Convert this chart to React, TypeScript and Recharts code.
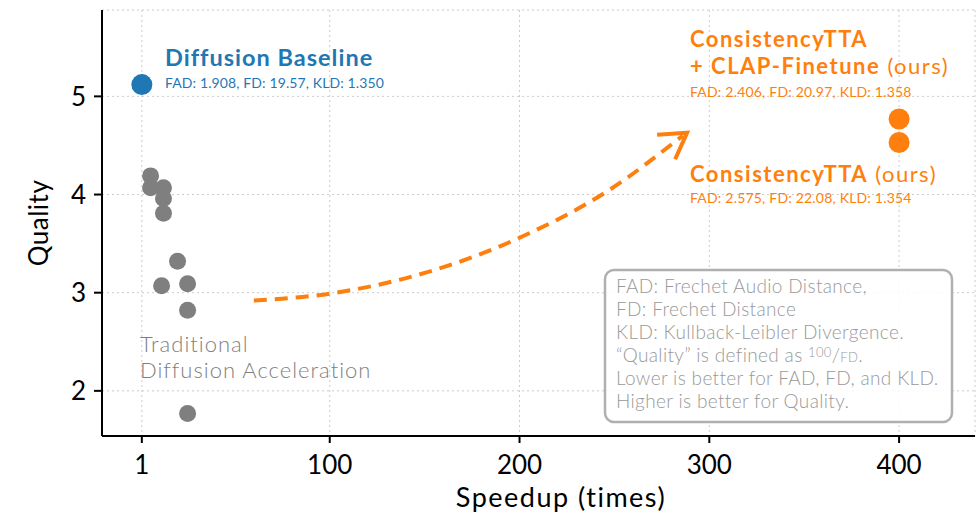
import { ScatterChart, Scatter, XAxis, YAxis, CartesianGrid, Customized } from "recharts";

// puntos: [speedup, quality]
const baselinePts = [{ x: 1, y: 5.12 }];
const tradicionalX = [5.6, 5.6, 12.4, 12.4, 12.4, 19.8, 11.4, 25.1, 25.1, 25.1];
const tradicionalY = [4.19, 4.07, 4.07, 3.96, 3.81, 3.32, 3.07, 3.09, 2.82, 1.77];
const oursX = [400, 400];
const oursY = [4.77, 4.53];
const flechaX = [60, 100, 200, 246, 286];
const flechaY = [2.92, 2.99, 3.56, 4.03, 4.6];
const puntaX = [272.5, 288.3, 282];
const puntaY = [4.61, 4.63, 4.36];
const xTicks = [1, 100, 200, 300, 400];
const yTicks = [2, 3, 4, 5];

const zip = (xs: number[], ys: number[]) => xs.map((x, i) => ({ x, y: ys[i] }));
const tradicional = zip(tradicionalX, tradicionalY);
const ours = zip(oursX, oursY);
const flecha = zip(flechaX, flechaY);
const punta = zip(puntaX, puntaY);

const FONT = "Lato, 'Noto Sans', sans-serif";
const AZUL = "#1f77b4";
const NARANJA = "#ff7f0e";
const GRIS = "#7f7f7f";
const GRIS_TXT = "#999999";

const punto = (r: number, fill: string) => (p: any) => <circle cx={p.cx} cy={p.cy} r={r} fill={fill} />;
const nada = () => <g />;

function Textos() {
  return (
    <g fontFamily={FONT}>
      <text x={165} y={66} fontSize={23.5} letterSpacing={1} fontWeight={700} fill={AZUL}>Diffusion Baseline</text>
      <text x={165} y={88} fontSize={14} letterSpacing={0.12} fill={AZUL}>FAD: 1.908, FD: 19.57, KLD: 1.350</text>

      <g fontSize={22} letterSpacing={1.5} fill={NARANJA}>
        <text x={690} y={47} fontWeight={700}>ConsistencyTTA</text>
        <text x={690} y={74}>
          <tspan fontWeight={700}>+ CLAP-Finetune</tspan> (ours)
        </text>
        <text x={690} y={182}>
          <tspan fontWeight={700}>ConsistencyTTA</tspan> (ours)
        </text>
      </g>
      <text x={690} y={97} fontSize={14} letterSpacing={0.2} fill={NARANJA}>FAD: 2.406, FD: 20.97, KLD: 1.358</text>
      <text x={690} y={203} fontSize={14} letterSpacing={0.2} fill={NARANJA}>FAD: 2.575, FD: 22.08, KLD: 1.354</text>

      <g fontSize={22} letterSpacing={1} fontWeight={300} fill={GRIS}>
        <text x={140} y={352}>Traditional</text>
        <text x={140} y={378}>Diffusion Acceleration</text>
      </g>

      <rect x={605} y={270} width={347} height={152} rx={9} fill="#fff" fillOpacity={0.85} stroke="#b0b0b0" strokeWidth={2.5} />
      <g fontSize={19} letterSpacing={0.35} fill={GRIS_TXT} fontWeight={300}>
        <text x={616} y={293}>FAD: Frechet Audio Distance,</text>
        <text x={616} y={316}>FD: Frechet Distance</text>
        <text x={616} y={339}>KLD: Kullback-Leibler Divergence.</text>
        <text x={616} y={362}>
          “Quality” is defined as <tspan fontSize={13} dy={-5}>100</tspan>
          <tspan dy={5}>/</tspan>
          <tspan fontSize={13}>FD</tspan>.
        </text>
        <text x={616} y={385}>Lower is better for FAD, FD, and KLD.</text>
        <text x={616} y={408}>Higher is better for Quality.</text>
      </g>

      <text x={561} y={507} fontSize={27} letterSpacing={1.5} textAnchor="middle" fill="#000">Speedup (times)</text>
      <text x={0} y={0} fontSize={26} letterSpacing={0.5} textAnchor="middle" fill="#000" transform="translate(48 223) rotate(-90)">Quality</text>
    </g>
  );
}

export default function App() {
  return (
    <div style={{ position: "absolute", left: 0, top: 0, background: "#fff" }}>
      <ScatterChart width={979} height={518} margin={{ top: 10, right: 4, bottom: 0, left: 0 }}>
        <CartesianGrid stroke="#cccccc" strokeDasharray="2 3" strokeWidth={1} />
        <XAxis type="number" dataKey="x" domain={[-20, 440]} ticks={xTicks} height={82}
          allowDataOverflow stroke="#000" strokeWidth={2} tickSize={7} tickMargin={13}
          tick={{ fontSize: 26, fill: "#000", fontFamily: FONT }} />
        <YAxis type="number" dataKey="y" domain={[1.54, 5.88]} ticks={yTicks} width={102}
          allowDataOverflow stroke="#000" strokeWidth={2} tickSize={8} tickMargin={8}
          tick={{ fontSize: 26, fill: "#000", fontFamily: FONT }} />
        <Scatter data={flecha} isAnimationActive={false} shape={nada} lineJointType="monotoneX"
          line={{ stroke: NARANJA, strokeWidth: 4, strokeDasharray: "13 8" }} />
        <Scatter data={punta} isAnimationActive={false} shape={nada} lineJointType="linear"
          line={{ stroke: NARANJA, strokeWidth: 4 }} />
        <Scatter data={tradicional} isAnimationActive={false} shape={punto(8.5, GRIS)} />
        <Scatter data={baselinePts} isAnimationActive={false} shape={punto(10.5, AZUL)} />
        <Scatter data={ours} isAnimationActive={false} shape={punto(10.5, NARANJA)} />
        <Customized component={<Textos />} />
      </ScatterChart>
    </div>
  );
}
